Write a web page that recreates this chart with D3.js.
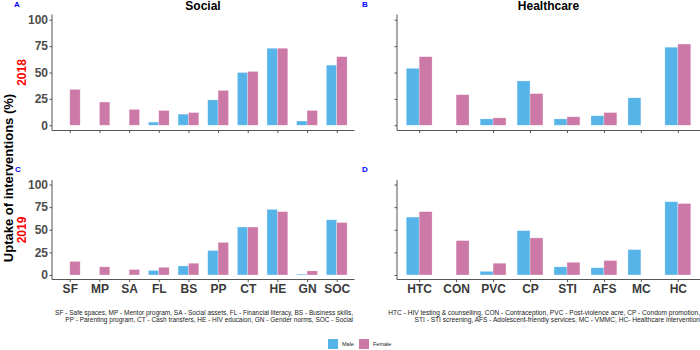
<!DOCTYPE html>
<html>
<head>
<meta charset="utf-8">
<script src="https://cdn.jsdelivr.net/npm/d3@7"></script>
<style>
  body { margin: 0; background: #fff; }
  svg { font-family: "Liberation Sans", Arial, sans-serif; display: block; }
</style>
</head>
<body>
<div id="chart"></div>
<script>
(function () {
    // categories
    var socialCats = ["SF", "MP", "SA", "FL", "BS", "PP", "CT", "HE", "GN", "SOC"];
    var healthCats = ["HTC", "CON", "PVC", "CP", "STI", "AFS", "MC", "HC"];

    // uptake (%) per category, null = no bar
    var social2018Male   = [null, null, null, 3, 10.5, 24, 50, 73, 4, 57];
    var social2018Female = [34, 22, 15, 14, 12, 33, 51, 73, 14, 65];
    var social2019Male   = [null, null, null, 5, 10, 27, 53, 72.5, 1, 61];
    var social2019Female = [15, 9, 6, 8.5, 13, 36, 53, 70, 4.5, 58];

    var health2018Male   = [54, null, 6, 42, 6, 9, 26, 74];
    var health2018Female = [65, 29, 7, 30, 8, 12, null, 77];
    var health2019Male   = [64, null, 4, 49, 9, 8, 28, 81];
    var health2019Female = [70, 38, 13, 41, 14, 16, null, 79];

    var yTicks = [0, 25, 50, 75, 100];
    var sexes = ["Male", "Female"];

    const width = 700;
    const height = 350;
    const axis_color = "#555";
    const tick_color = "#4d4d4d";

    var color_scale = d3.scaleOrdinal().domain(sexes).range(["#56B4E9", "#CC79A7"]);

    var svg = d3.select("#chart").append("svg")
        .attr("width", width)
        .attr("height", height);

    // panel layout
    var panels = [
        { cats: socialCats, male: social2018Male, female: social2018Female, x0: 52, x1: 354.5, y0: 130.5, y1: 14.5, yLabels: true, xLabels: false },
        { cats: healthCats, male: health2018Male, female: health2018Female, x0: 397, x1: 700, y0: 130.5, y1: 14.5, yLabels: false, xLabels: false },
        { cats: socialCats, male: social2019Male, female: social2019Female, x0: 52, x1: 354.5, y0: 279.5, y1: 180, yLabels: true, xLabels: true },
        { cats: healthCats, male: health2019Male, female: health2019Female, x0: 397, x1: 700, y0: 279.5, y1: 180, yLabels: false, xLabels: true }
    ];

    panels.forEach(function (p) {
        drawPanel(p);
    });

    function drawPanel(p) {
        var x_scale = d3.scalePoint().domain(p.cats).range([p.x0, p.x1]).padding(0.6);
        var y_scale = d3.scaleLinear().domain([-5, 105]).range([p.y0, p.y1]);
        var groupW = x_scale.step() * 0.7;
        var sub = d3.scaleBand().domain(sexes).range([-groupW / 2, groupW / 2]);

        var rows = [];
        p.cats.forEach(function (c, i) {
            rows.push({ cat: c, sex: "Male", value: p.male[i] });
            rows.push({ cat: c, sex: "Female", value: p.female[i] });
        });

        var g = svg.append("g");

        g.selectAll("rect.bar").data(rows.filter(function (d) { return d.value != null; }))
            .enter().append("rect")
            .attr("class", "bar")
            .attr("x", function (d) { return x_scale(d.cat) + sub(d.sex); })
            .attr("width", sub.bandwidth())
            .attr("y", function (d) { return y_scale(d.value); })
            .attr("height", function (d) { return y_scale(0) - y_scale(d.value); })
            .attr("fill", function (d) { return color_scale(d.sex); })
            .attr("stroke", "#ffffff")
            .attr("stroke-opacity", 0.45)
            .attr("stroke-width", 0.6);

        // y axis
        var yAxis = d3.axisLeft(y_scale).tickValues(yTicks).tickSize(2.5).tickPadding(1.5)
            .tickFormat(p.yLabels ? d3.format("d") : "");
        var ya = g.append("g")
            .attr("transform", `translate(${p.x0},0)`)
            .call(yAxis);
        ya.select(".domain").attr("stroke", axis_color).attr("d", `M0,${p.y0}V${p.y1}`);
        ya.selectAll(".tick line").attr("stroke", axis_color);
        ya.selectAll(".tick text")
            .attr("fill", tick_color)
            .attr("font-size", 12)
            .attr("font-weight", "bold")
            .attr("font-family", "Liberation Sans, Arial, sans-serif");

        // x axis
        var xAxis = d3.axisBottom(x_scale).tickSize(2.5).tickPadding(2)
            .tickFormat(p.xLabels ? null : "");
        var xa = g.append("g")
            .attr("transform", `translate(0,${p.y0})`)
            .call(xAxis);
        xa.select(".domain").attr("stroke", axis_color).attr("d", `M${p.x0},0H${p.x1}`);
        xa.selectAll(".tick line").attr("stroke", axis_color);
        xa.selectAll(".tick text")
            .attr("fill", "#3a3a3a")
            .attr("font-size", 12)
            .attr("font-weight", "bold")
            .attr("font-family", "Liberation Sans, Arial, sans-serif");
    }

    // panel titles
    svg.append("text").attr("x", 203).attr("y", 10).attr("text-anchor", "middle")
        .attr("font-size", 12).attr("font-weight", "bold").text("Social");
    svg.append("text").attr("x", 548.5).attr("y", 10).attr("text-anchor", "middle")
        .attr("font-size", 12).attr("font-weight", "bold").text("Healthcare");

    // panel tags
    var tags = [["A", 14, 7], ["B", 362, 7], ["C", 15, 172], ["D", 362, 172]];
    svg.selectAll(".tag").data(tags).enter().append("text")
        .attr("class", "tag")
        .attr("x", function (d) { return d[1]; })
        .attr("y", function (d) { return d[2]; })
        .attr("fill", "#0000ff")
        .attr("font-size", 8)
        .attr("font-weight", "bold")
        .text(function (d) { return d[0]; });

    // y title and years
    svg.append("text")
        .attr("transform", "translate(12.5,178) rotate(-90)")
        .attr("text-anchor", "middle")
        .attr("font-size", 13).attr("font-weight", "bold")
        .text("Uptake of interventions (%)");
    svg.append("text")
        .attr("transform", "translate(26,72.5) rotate(-90)")
        .attr("text-anchor", "middle")
        .attr("fill", "#ff0000")
        .attr("font-size", 12).attr("font-weight", "bold")
        .text("2018");
    svg.append("text")
        .attr("transform", "translate(26,230) rotate(-90)")
        .attr("text-anchor", "middle")
        .attr("fill", "#ff0000")
        .attr("font-size", 12).attr("font-weight", "bold")
        .text("2019");

    // footnotes
    var socialNotes = [
        "SF - Safe spaces, MP - Mentor program, SA - Social assets,  FL - Financial literacy, BS - Business skills,",
        "PP - Parenting program, CT - Cash transfers, HE - HIV educaion, GN - Gender norms, SOC - Social"
    ];
    var healthNotes = [
        "HTC - HIV testing & counselling, CON - Contraception, PVC - Post-violence acre, CP - Condom promotion,",
        "STI - STI screening, AFS - Adolescent-friendly services, MC - VMMC, HC- Healthcare intervention"
    ];
    svg.selectAll(".snote").data(socialNotes).enter().append("text")
        .attr("class", "snote")
        .attr("x", 353).attr("y", function (d, i) { return 314.5 + i * 7.5; })
        .attr("text-anchor", "end")
        .attr("font-size", 6.5).attr("fill", "#222")
        .text(function (d) { return d; });
    svg.selectAll(".hnote").data(healthNotes).enter().append("text")
        .attr("class", "hnote")
        .attr("x", 700).attr("y", function (d, i) { return 314.5 + i * 7.5; })
        .attr("text-anchor", "end")
        .attr("font-size", 6.6).attr("fill", "#222")
        .text(function (d) { return d; });

    // legend
    var legend = svg.append("g").attr("transform", "translate(328,339)");
    var lg = legend.selectAll("g").data(sexes).enter().append("g")
        .attr("transform", function (d, i) { return `translate(${i * 31},0)`; });
    lg.append("rect")
        .attr("width", 10).attr("height", 10)
        .attr("fill", function (d) { return color_scale(d); });
    lg.append("text")
        .attr("x", 14).attr("y", 5).attr("dy", ".35em")
        .attr("font-size", 5.5).attr("fill", "#222")
        .text(function (d) { return d; });
})();
</script>
</body>
</html>
